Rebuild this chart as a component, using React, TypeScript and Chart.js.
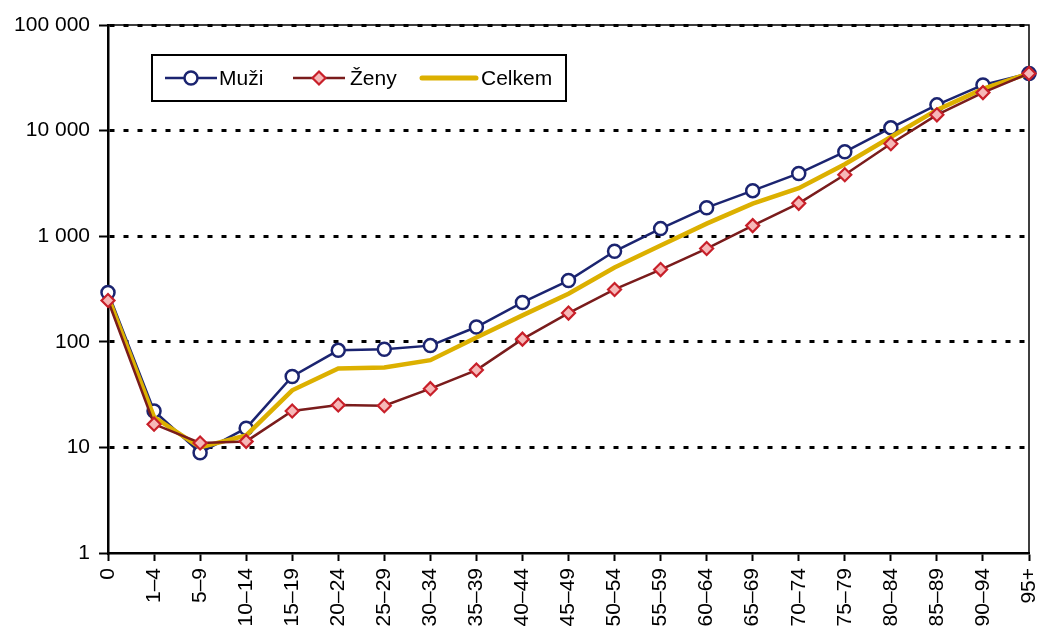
import React, { useEffect, useRef } from 'react';
import { Chart, registerables } from 'chart.js';

Chart.register(...registerables);

const categories = ['0', '1–4', '5–9', '10–14', '15–19', '20–24', '25–29', '30–34', '35–39', '40–44', '45–49', '50–54', '55–59', '60–64', '65–69', '70–74', '75–79', '80–84', '85–89', '90–94', '95+'];
const muzi = [293, 22.1, 8.9, 15.2, 47, 83, 85, 92, 138, 236, 380, 720, 1180, 1863, 2700, 3930, 6300, 10620, 17530, 27100, 34800];
const zeny = [246, 16.6, 11.0, 11.4, 22.1, 25.2, 24.8, 36, 54, 106, 187, 313, 483, 764, 1260, 2047, 3820, 7500, 14100, 22900, 34800];
const celkem = [268, 19.4, 10, 13, 34.7, 56, 57, 67, 110, 178, 285, 505, 815, 1315, 2033, 2850, 4800, 8700, 15700, 24800, 34800];
const yTicks = [1, 10, 100, 1000, 10000, 100000];
const seriesNames = ['Muži', 'Ženy', 'Celkem'];

const FONT = '"Liberation Sans", Arial, sans-serif';
const NAVY = '#1b2470';
const MAROON = '#7a1c1c';
const RED = '#c8202a';
const PINK = '#f6b8b8';
const GOLD = '#dcb000';

const fmt = (v: number) => String(v).replace(/\B(?=(\d{3})+(?!\d))/g, ' ');

const framePlugin = {
  id: 'frame',
  beforeDatasetsDraw(chart: any) {
    const { ctx, chartArea } = chart;
    const { left, top, right, bottom } = chartArea;
    ctx.save();
    ctx.strokeStyle = '#000';
    ctx.lineWidth = 1.5;
    ctx.beginPath();
    ctx.moveTo(left, top);
    ctx.lineTo(right, top);
    ctx.lineTo(right, bottom);
    ctx.stroke();
    ctx.restore();
  },
};

const legendPlugin = {
  id: 'boxLegend',
  afterDraw(chart: any) {
    const { ctx, chartArea } = chart;
    const x = chartArea.left + 44;
    const y = chartArea.top + 30;
    const w = 414;
    const h = 46;
    const cy = y + h / 2;
    ctx.save();
    ctx.fillStyle = '#fff';
    ctx.fillRect(x, y, w, h);
    ctx.strokeStyle = '#000';
    ctx.lineWidth = 2;
    ctx.strokeRect(x, y, w, h);
    ctx.font = `21px ${FONT}`;
    ctx.textBaseline = 'middle';
    ctx.fillStyle = '#000';

    // Muži
    ctx.strokeStyle = NAVY;
    ctx.lineWidth = 2.5;
    ctx.beginPath();
    ctx.moveTo(x + 13, cy);
    ctx.lineTo(x + 65, cy);
    ctx.stroke();
    ctx.beginPath();
    ctx.arc(x + 39, cy, 6.5, 0, Math.PI * 2);
    ctx.fillStyle = '#fff';
    ctx.fill();
    ctx.lineWidth = 2.5;
    ctx.stroke();
    ctx.fillStyle = '#000';
    ctx.fillText(seriesNames[0], x + 67, cy + 1);

    // Ženy
    ctx.strokeStyle = MAROON;
    ctx.lineWidth = 2.5;
    ctx.beginPath();
    ctx.moveTo(x + 141, cy);
    ctx.lineTo(x + 193, cy);
    ctx.stroke();
    const dx = x + 167;
    const r = 6.5;
    ctx.beginPath();
    ctx.moveTo(dx, cy - r);
    ctx.lineTo(dx + r, cy);
    ctx.lineTo(dx, cy + r);
    ctx.lineTo(dx - r, cy);
    ctx.closePath();
    ctx.fillStyle = PINK;
    ctx.fill();
    ctx.strokeStyle = RED;
    ctx.lineWidth = 2.2;
    ctx.stroke();
    ctx.fillStyle = '#000';
    ctx.fillText(seriesNames[1], x + 198, cy + 1);

    // Celkem
    ctx.strokeStyle = GOLD;
    ctx.lineWidth = 5;
    ctx.lineCap = 'round';
    ctx.beginPath();
    ctx.moveTo(x + 270, cy);
    ctx.lineTo(x + 324, cy);
    ctx.stroke();
    ctx.fillStyle = '#000';
    ctx.fillText(seriesNames[2], x + 329, cy + 1);
    ctx.restore();
  },
};

export default function App() {
  const ref = useRef<HTMLCanvasElement | null>(null);

  useEffect(() => {
    if (!ref.current) return;
    const chart = new Chart(ref.current, {
      type: 'line',
      data: {
        labels: categories,
        datasets: [
          {
            label: seriesNames[1],
            data: zeny,
            borderColor: MAROON,
            borderWidth: 2.5,
            pointStyle: 'rectRot',
            pointRadius: 6.5,
            pointBorderWidth: 2.2,
            pointBackgroundColor: PINK,
            pointBorderColor: RED,
            tension: 0,
            order: 0,
          },
          {
            label: seriesNames[2],
            data: celkem,
            borderColor: GOLD,
            borderWidth: 4.5,
            pointRadius: 0,
            tension: 0,
            order: 1,
          },
          {
            label: seriesNames[0],
            data: muzi,
            borderColor: NAVY,
            borderWidth: 2.5,
            pointStyle: 'circle',
            pointRadius: 6.5,
            pointBorderWidth: 2.5,
            pointBackgroundColor: '#ffffff',
            pointBorderColor: NAVY,
            tension: 0,
            order: 2,
          },
        ],
      },
      options: {
        responsive: false,
        animation: false,
        layout: { padding: { top: 25, right: 13, left: 0, bottom: 0 } },
        plugins: {
          legend: { display: false },
          tooltip: { enabled: false },
        },
        scales: {
          x: {
            type: 'category',
            offset: false,
            grid: {
              drawOnChartArea: false,
              drawTicks: true,
              tickLength: 8,
              tickColor: '#000',
              tickWidth: 2,
            },
            border: { display: true, color: '#000', width: 2.5 },
            ticks: {
              autoSkip: false,
              maxRotation: 90,
              minRotation: 90,
              padding: 7,
              color: '#000',
              font: { family: FONT, size: 21 },
            },
            afterFit(scale: any) {
              scale.height = 82;
              scale.paddingRight = 0;
              scale.paddingLeft = 0;
            },
          },
          y: {
            type: 'logarithmic',
            min: 1,
            max: 100000,
            afterBuildTicks(scale: any) {
              scale.ticks = yTicks.map((v) => ({ value: v }));
            },
            afterFit(scale: any) {
              scale.width = 108;
            },
            grid: {
              color: (c: any) => (c.tick && c.tick.value === 1 ? 'rgba(0,0,0,0)' : '#000'),
              lineWidth: 3,
              drawTicks: true,
              tickLength: 9,
              tickColor: '#000',
              tickWidth: 2,
              tickBorderDash: [],
            },
            border: { display: true, color: '#000', width: 2.5, dash: [5, 9] },
            ticks: {
              padding: 9,
              color: '#000',
              font: { family: FONT, size: 21 },
              callback: (v: any) => fmt(Number(v)),
            },
          },
        },
      },
      plugins: [framePlugin, legendPlugin],
    } as any);
    return () => chart.destroy();
  }, []);

  return (
    <div style={{ position: 'absolute', left: 0, top: 0, width: 1042, height: 635, background: '#fff' }}>
      <canvas ref={ref} width={1042} height={635} />
    </div>
  );
}
